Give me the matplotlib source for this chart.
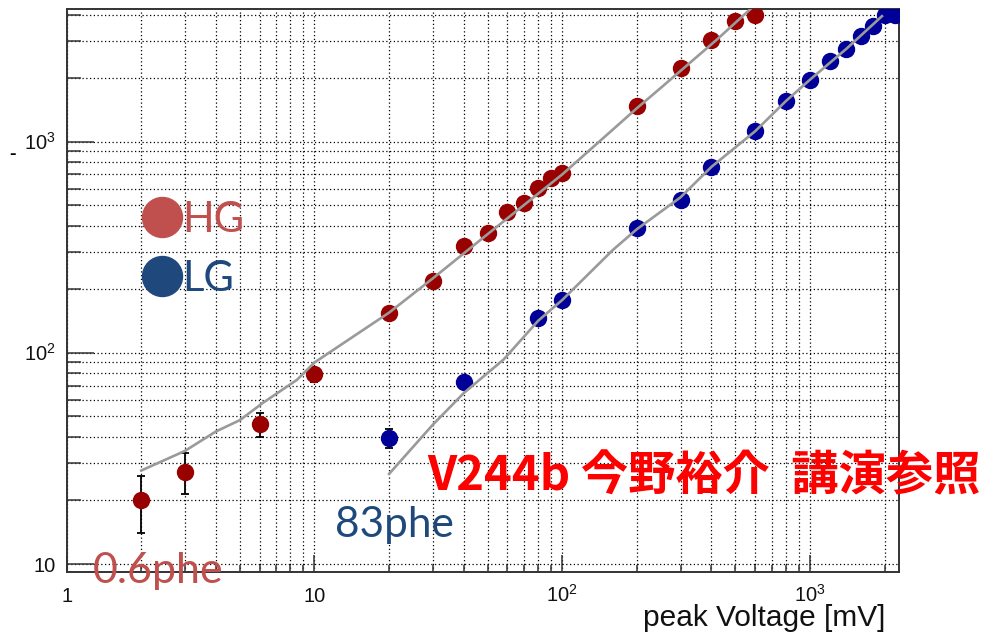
import matplotlib
matplotlib.use('Agg')
import matplotlib.pyplot as plt
from matplotlib.lines import Line2D
from matplotlib.ticker import LogLocator, NullFormatter

# ---------------- data ----------------
hg_x = [2, 3, 6, 10, 20, 30, 40, 50, 60, 70, 80, 90, 100, 200, 300, 400, 500, 600]
hg_y = [20, 27.4, 46, 79, 155, 218, 320, 368, 462, 511, 605, 670, 708, 1476, 2228, 3040, 3730, 3990]
hg_err = [6, 6, 6, 6, 6, 6, 6, 6, 6, 6, 6, 6, 6, 6, 6, 6, 6, 6]

lg_x = [20, 40, 80, 100, 200, 300, 400, 600, 800, 1000, 1200, 1400, 1600, 1800, 2000, 2200]
lg_y = [39.5, 73, 146, 178, 390, 531, 759, 1119, 1563, 1968, 2405, 2749, 3157, 3520, 4000, 4000]
lg_err = [4.2, 4, 4, 4, 4, 4, 4, 4, 4, 4, 4, 4, 4, 4, 4, 4]

hg_fit_x = [2, 3, 4, 5, 6.2, 8.5, 10, 20, 30, 50, 100, 200, 250, 420, 600]
hg_fit_y = [27.7, 34.3, 42.4, 48, 58, 74.5, 90, 155, 225, 365, 700, 1440, 1800, 3040, 4450]

lg_fit_x = [20, 30, 40, 58, 80, 100, 160, 200, 300, 400, 600, 800, 1000, 1400, 1950]
lg_fit_y = [26.7, 45.6, 64.4, 93, 142, 178, 307, 385, 545, 760, 1120, 1560, 1968, 2750, 3930]

x_ticks = [1, 10, 100, 1000]
x_tick_labels = ['1', '10', r'$\mathregular{10^{2}}$', r'$\mathregular{10^{3}}$']
y_ticks = [10, 100, 1000]
y_tick_labels = ['10', r'$\mathregular{10^{2}}$', r'$\mathregular{10^{3}}$']

series_names = ['HG', 'LG']
x_title = 'peak Voltage [mV]'
note_text = 'V244b 今野裕介  講演参照'
hg_note = '0.6phe'
lg_note = '83phe'

# ---------------- style ----------------
plt.rcParams['mathtext.fontset'] = 'custom'
plt.rcParams['mathtext.rm'] = 'Liberation Sans'
plt.rcParams['mathtext.it'] = 'Liberation Sans:italic'
plt.rcParams['mathtext.bf'] = 'Liberation Sans:bold'

HG_C = '#990000'
LG_C = '#000099'
HG_LBL = '#C0504D'
LG_LBL = '#1F497D'
FIT_C = '#9a9a9a'

fig = plt.figure(figsize=(9.9, 6.33), dpi=100)
W, H = 990, 633
ax = fig.add_axes([66.7 / W, 1 - 571.7 / H, (899 - 66.7) / W, (571.7 - 8.7) / H])
ax.set_xscale('log')
ax.set_yscale('log')
ax.set_xlim(1, 2285)
ax.set_ylim(9.19, 4264)

# grid
ax.set_axisbelow(True)
ax.grid(True, which='both', color='black', linestyle=(0, (1, 2)), linewidth=0.9, alpha=1.0)

# error bars, markers, fit curves
ax.errorbar(hg_x, hg_y, yerr=hg_err, fmt='none', ecolor='black', elinewidth=1.3,
            capsize=2.8, capthick=1.3, zorder=2)
ax.errorbar(lg_x, lg_y, yerr=lg_err, fmt='none', ecolor='black', elinewidth=1.3,
            capsize=2.8, capthick=1.3, zorder=2)
ax.plot(hg_x, hg_y, 'o', ms=11.5, color=HG_C, mec=HG_C, zorder=3)
ax.plot(lg_x, lg_y, 'o', ms=11.5, color=LG_C, mec=LG_C, zorder=3)
ax.plot(hg_fit_x, hg_fit_y, '-', color=FIT_C, lw=1.9, zorder=4)
ax.plot(lg_fit_x, lg_fit_y, '-', color=FIT_C, lw=1.9, zorder=4)

# ticks
for axis in (ax.xaxis, ax.yaxis):
    axis.set_major_locator(LogLocator(base=10, numticks=10))
    axis.set_minor_locator(LogLocator(base=10, subs=range(2, 10), numticks=100))
    axis.set_minor_formatter(NullFormatter())
ax.tick_params(axis='x', which='major', direction='in', length=12, width=1.1,
               color='#333333', labelbottom=False)
ax.tick_params(axis='x', which='minor', direction='in', length=5, width=1.1,
               color='#333333')
ax.tick_params(axis='y', which='major', direction='in', length=19.4, width=1.1,
               color='#333333', labelleft=False)
ax.tick_params(axis='y', which='minor', direction='in', length=10, width=1.1,
               color='#333333')
ax.tick_params(top=False, right=False, which='both')
for s in ax.spines.values():
    s.set_color('#333333')
    s.set_linewidth(1.4)

tick_font = dict(family='Liberation Sans', fontsize=14.5, color='#111111')
for xv, lab in zip(x_ticks, x_tick_labels):
    ax.annotate(lab, xy=(xv, 0), xycoords=('data', 'axes fraction'),
                xytext=(0, -30), textcoords='offset pixels',
                ha='center', va='baseline', annotation_clip=False, **tick_font)
for yv, lab in zip(y_ticks, y_tick_labels):
    ax.annotate(lab, xy=(0, yv), xycoords=('axes fraction', 'data'),
                xytext=(-11, -8), textcoords='offset pixels',
                ha='right', va='baseline', annotation_clip=False, **tick_font)

# axis title
fig.text(885 / W, 1 - 626 / H, x_title, ha='right', va='baseline',
         family='Liberation Sans', fontsize=21.5, color='#111111')
fig.text(13 / W, 1 - 159 / H, '-', ha='center', va='baseline',
         family='Liberation Sans', fontsize=14, fontweight='bold', color='black')

# legend
handles = [Line2D([], [], marker='o', ls='none', ms=28.8, color=HG_LBL, mec=HG_LBL),
           Line2D([], [], marker='o', ls='none', ms=28.8, color=LG_LBL, mec=LG_LBL)]
leg = ax.legend(handles, series_names, loc='upper left',
                bbox_to_anchor=(140.9 / W, 1 - 201 / H), bbox_transform=fig.transFigure,
                frameon=False, prop=dict(family='Lato', size=30),
                labelcolor=[HG_LBL, LG_LBL], handlelength=1.0, handletextpad=0.0,
                labelspacing=0.5, borderpad=0, borderaxespad=0)

# annotations
fig.text(93 / W, 1 - 583 / H, hg_note, ha='left', va='baseline', family='Lato',
         fontsize=31, color=HG_LBL, zorder=10)
fig.text(335 / W, 1 - 536.7 / H, lg_note, ha='left', va='baseline', family='Lato',
         fontsize=30.5, color=LG_LBL, zorder=10)
fig.text(427 / W, 1 - 490 / H, note_text, ha='left', va='baseline',
         family=['Noto Sans CJK JP', 'DejaVu Sans'], fontweight='bold',
         fontsize=34, color='#ff0000', zorder=10)

fig.savefig('out.png', dpi=100)
